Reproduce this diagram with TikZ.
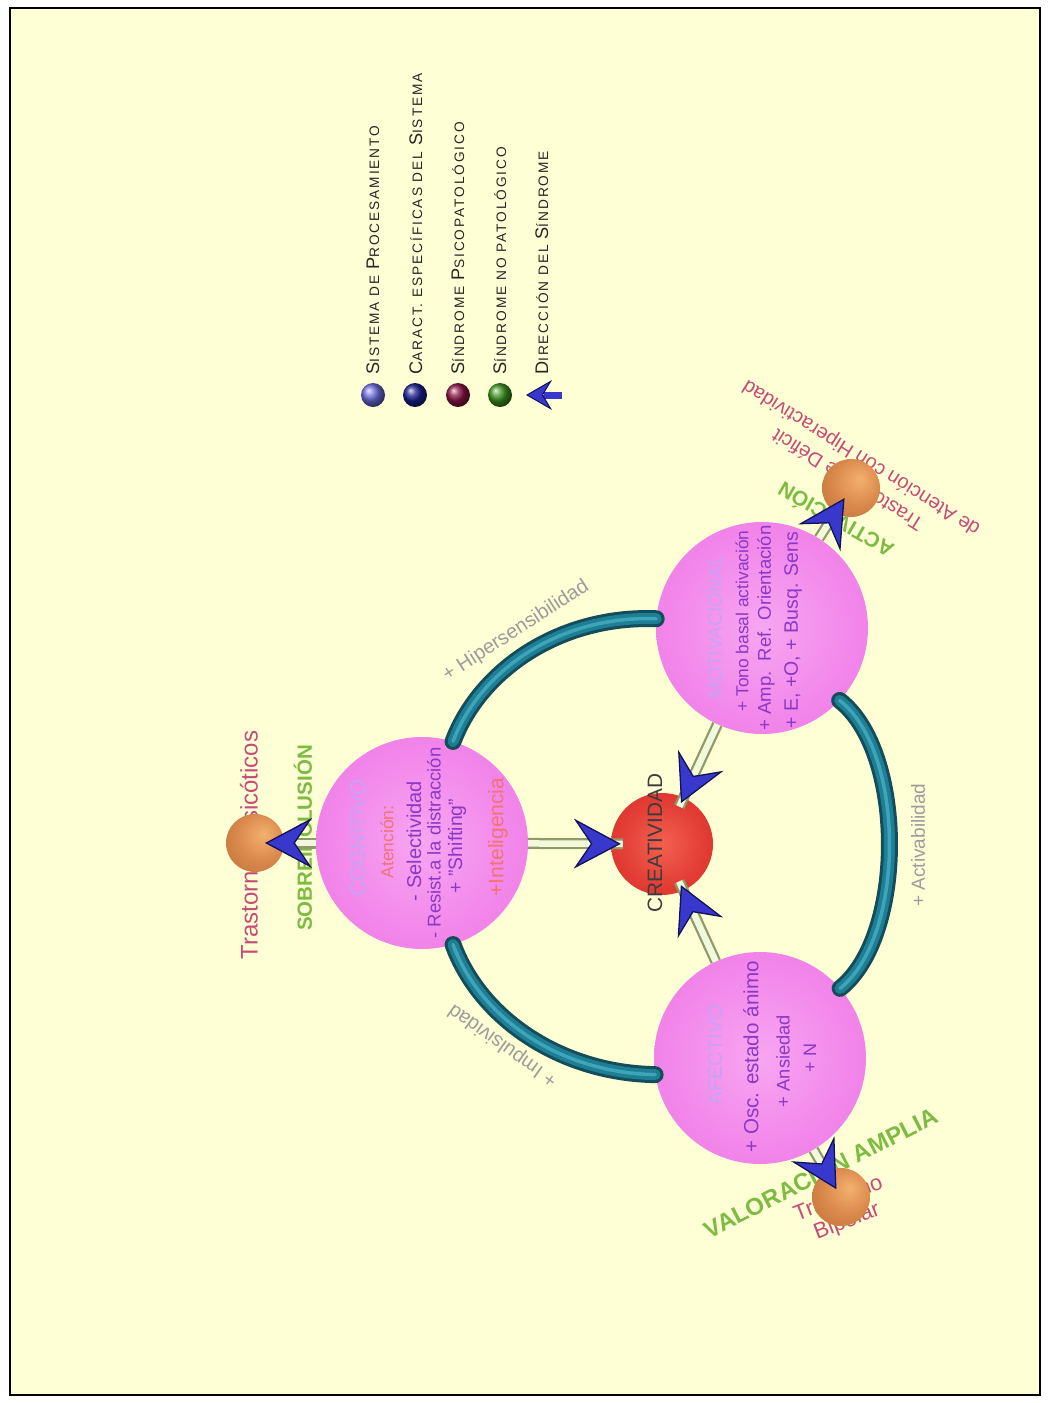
\documentclass[tikz,border=0pt]{standalone}
\usepackage{fontspec}
\setmainfont{Liberation Sans}
\newfontfamily\legfont[LetterSpace=14]{Liberation Sans}
\usetikzlibrary{arrows.meta}
\definecolor{bg}{HTML}{FFFFD6}
\definecolor{pkA}{HTML}{F7A6F1}
\definecolor{pkB}{HTML}{F286EA}
\definecolor{pkC}{HTML}{EC72E2}
\definecolor{pkD}{HTML}{CC58C0}
\definecolor{pkE}{HTML}{A0409A}
\definecolor{rdA}{HTML}{F26050}
\definecolor{rdB}{HTML}{E23B34}
\definecolor{rdC}{HTML}{C82A26}
\definecolor{rdD}{HTML}{901818}
\definecolor{orA}{HTML}{F4B070}
\definecolor{orB}{HTML}{DA8A4C}
\definecolor{orC}{HTML}{B86A36}
\definecolor{orD}{HTML}{7A3E1C}
\definecolor{tealD}{HTML}{134C5A}
\definecolor{tealM}{HTML}{1E7E94}
\definecolor{tealL}{HTML}{3EA4BA}
\definecolor{shaftD}{HTML}{8E9A68}
\definecolor{shaftL}{HTML}{F2F8DC}
\definecolor{arrB}{HTML}{3838CC}
\definecolor{arrD}{HTML}{121258}
\definecolor{lav}{HTML}{C8A2F4}
\definecolor{purp}{HTML}{8A38C8}
\definecolor{salmon}{HTML}{F07474}
\definecolor{rose}{HTML}{C64C78}
\definecolor{grn}{HTML}{7DBB43}
\definecolor{gry}{HTML}{9C9C9C}
\definecolor{dgry}{HTML}{3C3C3C}
\definecolor{lgtx}{HTML}{262626}
\definecolor{lgA}{HTML}{6C6CDE}
\definecolor{lgB}{HTML}{1A2090}
\definecolor{lgC}{HTML}{8C1444}
\definecolor{lgD}{HTML}{3C9420}
\pgfdeclareradialshading{pinkshade}{\pgfpoint{0bp}{0bp}}{color(0bp)=(pkA); color(22bp)=(pkB); color(43bp)=(pkC); color(48bp)=(pkD); color(50bp)=(pkE)}
\pgfdeclareradialshading{redshade}{\pgfpoint{0bp}{0bp}}{color(0bp)=(rdA); color(22bp)=(rdB); color(43bp)=(rdC); color(50bp)=(rdD)}
\pgfdeclareradialshading{orshade}{\pgfpoint{8bp}{8bp}}{color(0bp)=(orA); color(20bp)=(orB); color(45bp)=(orC); color(60bp)=(orD)}
\newcommand\fs[1]{\fontsize{#1}{#1}\selectfont}
\newcommand\lgsc[2]{{\fontsize{18.2}{19}\selectfont #1}{\fontsize{13.7}{15}\selectfont #2}}
\begin{document}
\begin{tikzpicture}[x=1pt,y=-1pt,
  sysball/.style={circle, inner sep=0pt, minimum size=212pt, shade, shading=pinkshade},
  creaball/.style={circle, inner sep=0pt, minimum size=102pt, shade, shading=redshade},
  orball/.style={circle, inner sep=0pt, minimum size=58pt, shade, shading=orshade},
  legball/.style={circle, inner sep=0pt, minimum size=24pt, ball color=#1},
  tube/.style={draw=tealD, line width=17pt, line cap=round,
    postaction={draw=tealM, line width=11pt},
    postaction={draw=tealL, line width=3.5pt}},
  shaft/.style={draw=shaftD, line width=11pt,
    postaction={draw=shaftL, line width=6.5pt}},
  headln/.style={draw=shaftL, line width=0.2pt,
    -{Stealth[length=47pt,width=50pt,inset=17pt,color=arrD,fill=arrB,line width=1.3pt]}},
  lbl/.style={inner sep=0pt},
  vlbl/.style={inner sep=0pt, rotate=90},
  legtxt/.style={inner sep=0pt, rotate=90, anchor=base west, text=lgtx, font=\legfont}
]
\useasboundingbox (0,0) rectangle (1050,1403);
\fill[white] (0,0) rectangle (1050,1403);
\fill[bg] (10,8) rectangle (1040,1395);
\draw[line width=1.6pt] (10,8) rectangle (1040,1395);

% system spheres
\node[sysball] (cog) at (422,843) {};
\node[sysball] (mot) at (762,628) {};
\node[sysball] (aff) at (760,1058) {};
\node[creaball] (crea) at (662,844) {};

% tubes
\draw[tube] (cog.73) .. controls (480,670) and (560,615) .. (mot.175);
\draw[tube] (mot.-43) .. controls (906,752) and (906,936) .. (aff.41);
\draw[tube] (cog.-73) .. controls (480,1018) and (560,1073) .. (aff.189);

% legend
\node[legball=lgA] (lb1) at (373,395) {};
\node[legball=lgB] (lb2) at (415,395) {};
\node[legball=lgC] (lb3) at (458,395) {};
\node[legball=lgD] (lb4) at (500,395) {};
\node[legtxt] (lt1) at (379,375) {\lgsc{S}{ISTEMA DE }\lgsc{P}{ROCESAMIENTO}};
\node[legtxt] (lt2) at (422,375) {\lgsc{C}{ARACT. ESPECÍFICAS DEL }\lgsc{S}{ISTEMA}};
\node[legtxt] (lt3) at (464,375) {\lgsc{S}{ÍNDROME }\lgsc{P}{SICOPATOLÓGICO}};
\node[legtxt] (lt4) at (506,375) {\lgsc{S}{ÍNDROME NO PATOLÓGICO}};
\node[legtxt] (lt5) at (548,375) {\lgsc{D}{IRECCIÓN DEL }\lgsc{S}{ÍNDROME}};

% texts in spheres
\node[vlbl, text=lav, font=\fs{21}] (cog1) at (358,838) {COGNITIVO};
\node[vlbl, text=salmon, font=\fs{17.5}] (cog2) at (387,842) {Atención:};
\node[vlbl, text=purp, font=\fs{20}] (cog3) at (414,841) {- Selectividad};
\node[vlbl, text=purp, font=\fs{18.5}] (cog4) at (434,843) {- Resist.a la distracción};
\node[vlbl, text=purp, font=\fs{19.4}] (cog5) at (457,846) {+ "Shifting"};
\node[vlbl, text=salmon, font=\fs{21}] (cog6) at (498,837) {+Inteligencia};

\node[vlbl, text=lav, font=\fs{19.2}] (mot1) at (715,627) {MOTIVACIONAL};
\node[vlbl, text=purp, font=\fs{17.4}] (mot2) at (742,621) {+ Tono basal activación};
\node[vlbl, text=purp, font=\fs{18.5}] (mot3) at (766,628) {+ Amp.\ \ Ref. Orientación};
\node[vlbl, text=purp, font=\fs{19.5}] (mot4) at (793,630) {+ E, +O, + Busq. Sens};

\node[vlbl, text=lav, font=\fs{20}] (aff1) at (715,1055) {AFECTIVO};
\node[vlbl, text=purp, font=\fs{20.6}] (aff2) at (751,1057) {+ Osc. estado ánimo};
\node[vlbl, text=purp, font=\fs{18.3}] (aff3) at (783,1061) {+ Ansiedad};
\node[vlbl, text=purp, font=\fs{18}] (aff4) at (810,1058) {+ N};

\node[vlbl, text=dgry, font=\fs{20.8}] (creatxt) at (655,843) {CREATIVIDAD};

% relation labels
\node[lbl, rotate=33, text=gry, font=\fs{20}] (hiper) at (516,631) {+ Hipersensibilidad};
\node[lbl, rotate=144.5, text=gry, font=\fs{20}] (impul) at (503,1045) {+ Impulsividad};
\node[vlbl, text=gry, font=\fs{19}] (activ) at (918,845) {+ Activabilidad};

% syndrome labels
\node[vlbl, text=rose, font=\fs{24}] (psictxt) at (249,845) {Trastornos Psicóticos};
\node[vlbl, text=grn, font=\bfseries\fs{20.5}] (sobre) at (303,838) {SOBREINCLUSIÓN};
\node[lbl, rotate=148, align=center, text=rose, font=\fontsize{20}{25}\selectfont] (adhdtxt) at (855,468) {Trastorno de Déficit\\de Atención con Hiperactividad};
\node[lbl, rotate=150, text=grn, font=\bfseries\fs{21}] (activa) at (835,521) {ACTIVACIÓN};
\node[lbl, rotate=27, text=grn, font=\bfseries\fs{24}] (valor) at (820,1171) {VALORACIÓN AMPLIA};
\node[lbl, rotate=21, align=center, text=rose, font=\fontsize{22}{24}\selectfont] (biptxt) at (843,1211) {Trastorno\\Bipolar};

% syndrome spheres
\node[orball] (psic) at (255,843) {};
\node[orball] (adhd) at (851,488) {};
\node[orball] (bip) at (841,1197) {};

% shafts
\draw[shaft, shorten >=-12pt] (cog) -- (crea);
\draw[shaft, shorten >=-10pt] (mot) -- (crea);
\draw[shaft, shorten >=-10pt] (aff) -- (crea);
\draw[shaft, shorten >=20pt] (cog) -- (psic.center);
\draw[shaft, shorten >=20pt] (mot) -- (adhd.center);
\draw[shaft, shorten >=20pt] (aff) -- (bip.center);

% heads
\draw[headln, shorten >=-10pt] (cog) -- (crea);
\draw[headln, shorten >=-6pt] (mot) -- (crea);
\draw[headln, shorten >=-6pt] (aff) -- (crea);
\draw[headln, shorten >=10pt] (cog) -- (psic.center);
\draw[headln, shorten >=12pt] (mot) -- (adhd.center);
\draw[headln, shorten >=9pt] (aff) -- (bip.center);

% legend arrow
\coordinate (legS) at (562,395);
\coordinate (legT) at (526,395);
\draw[draw=arrB, line width=7pt, shorten >=18pt] (legS) -- (legT);
\draw[draw=arrB, line width=0.2pt, -{Stealth[length=26pt,width=30pt,inset=9pt,color=arrD,fill=arrB,line width=1pt]}] (legS) -- (legT);
\end{tikzpicture}
\end{document}
